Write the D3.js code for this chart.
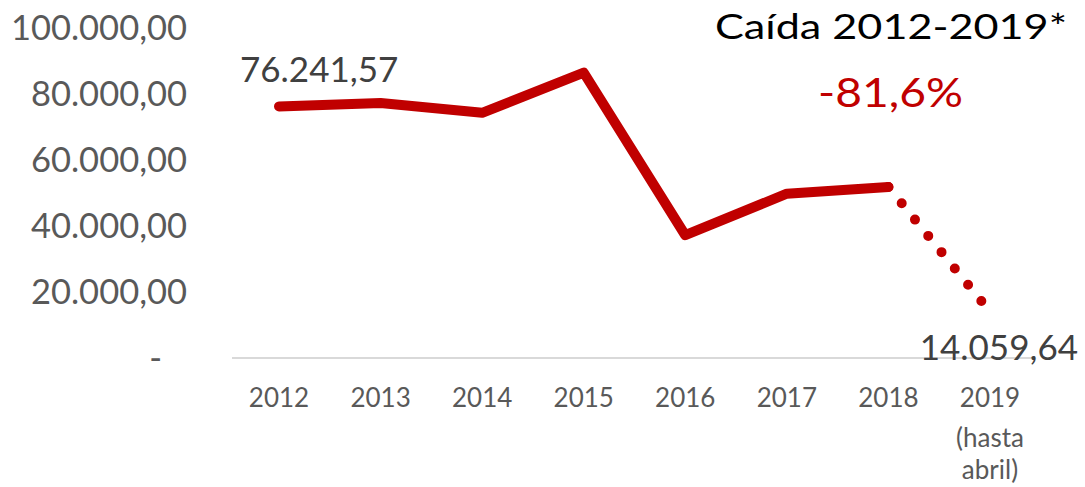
<!DOCTYPE html>
<html>
<head>
<meta charset="utf-8">
<script src="https://cdn.jsdelivr.net/npm/d3@7"></script>
<style>
  body { margin: 0; background: #fff; }
  svg text { font-family: Lato, "Open Sans", sans-serif; }
</style>
</head>
<body>
<svg id="chart"></svg>
<script>
// data
const years = ["2012", "2013", "2014", "2015", "2016", "2017", "2018", "2019"];
const values = [76241.57, 77300, 74300, 86500, 37200, 49800, 51800, 14059.64];
const yTicks = [0, 20000, 40000, 60000, 80000, 100000];
const tickLabels = ["-", "20.000,00", "40.000,00", "60.000,00", "80.000,00", "100.000,00"];
const title = "Caída 2012-2019*";
const change = "-81,6%";

const width = 1085, height = 487;
const svg = d3.select("#chart")
    .attr("width", width)
    .attr("height", height);

const x = d3.scalePoint()
    .domain(years)
    .range([279, 990]);

const y = d3.scaleLinear()
    .domain([0, 100000])
    .range([358, 28]);

const red = "#c00000";

// baseline
svg.append("line")
    .attr("x1", 232).attr("x2", 1032)
    .attr("y1", y(0)).attr("y2", y(0))
    .attr("stroke", "#d9d9d9")
    .attr("stroke-width", 2);

// y axis labels
svg.selectAll(".ytick")
    .data(yTicks)
    .enter().append("text")
    .attr("class", "ytick")
    .attr("x", (d, i) => i === 0 ? 162 : 187)
    .attr("y", d => y(d))
    .attr("dy", "0.35em")
    .attr("text-anchor", "end")
    .attr("fill", "#595959")
    .style("font-size", "34.5px")
    .text((d, i) => tickLabels[i]);

// x axis labels
svg.selectAll(".xtick")
    .data(years)
    .enter().append("text")
    .attr("class", "xtick")
    .attr("x", d => x(d))
    .attr("y", 407)
    .attr("text-anchor", "middle")
    .attr("fill", "#595959")
    .style("font-size", "26px")
    .text(d => d);

svg.append("text")
    .attr("x", x("2019")).attr("y", 447)
    .attr("text-anchor", "middle")
    .attr("fill", "#595959")
    .style("font-size", "26px")
    .text("(hasta");
svg.append("text")
    .attr("x", x("2019")).attr("y", 479)
    .attr("text-anchor", "middle")
    .attr("fill", "#595959")
    .style("font-size", "26px")
    .text("abril)");

const pts = years.map((d, i) => [x(d), y(values[i])]);
const line = d3.line();

// solid part 2012-2018
svg.append("path")
    .attr("d", line(pts.slice(0, 7)))
    .attr("fill", "none")
    .attr("stroke", red)
    .attr("stroke-width", 10)
    .attr("stroke-linejoin", "round")
    .attr("stroke-linecap", "round");

// dotted part 2018-2019
svg.append("path")
    .attr("d", line(pts.slice(6)))
    .attr("fill", "none")
    .attr("stroke", red)
    .attr("stroke-width", 10)
    .attr("stroke-linecap", "round")
    .attr("stroke-dasharray", "0 21");

// value labels
svg.append("text")
    .attr("x", 240).attr("y", 82)
    .attr("fill", "#404040")
    .style("font-size", "35px")
    .text("76.241,57");

svg.append("text")
    .attr("x", 1078).attr("y", 360)
    .attr("text-anchor", "end")
    .attr("fill", "#404040")
    .style("font-size", "35px")
    .text("14.059,64");

// annotation
svg.append("text")
    .attr("x", 715).attr("y", 39)
    .attr("fill", "#000")
    .attr("textLength", 352)
    .attr("lengthAdjust", "spacingAndGlyphs")
    .style("font-size", "34px")
    .text(title);

svg.append("text")
    .attr("x", 818).attr("y", 107)
    .attr("fill", red)
    .attr("textLength", 145)
    .attr("lengthAdjust", "spacingAndGlyphs")
    .style("font-size", "41px")
    .text(change);
</script>
</body>
</html>
